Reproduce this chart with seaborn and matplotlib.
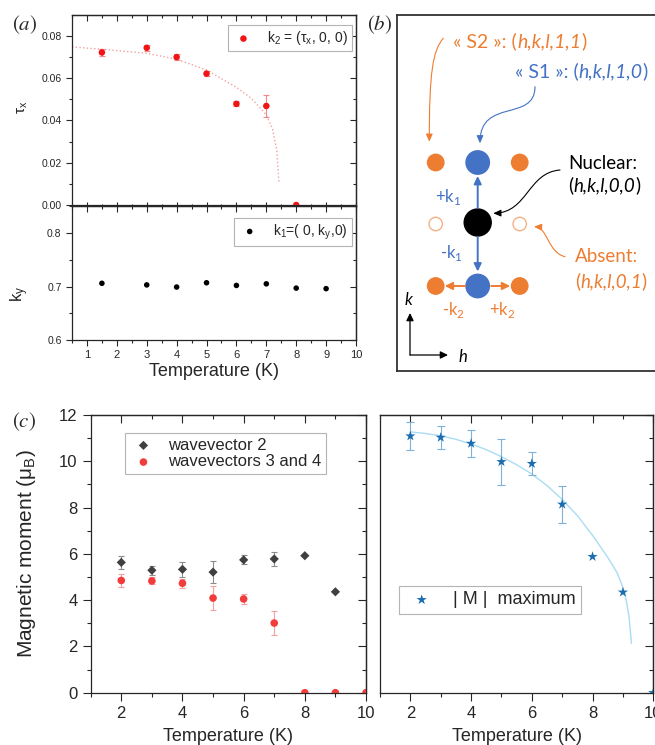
import matplotlib
matplotlib.use("Agg")
import matplotlib.pyplot as plt
from matplotlib.patches import Circle, FancyArrowPatch
from matplotlib.path import Path
from matplotlib.ticker import MultipleLocator, FormatStrFormatter
import pandas as pd
import seaborn as sns

# ---------------- data ----------------
# (a) top : k2 = (tau_x, 0, 0)
temp_tau = [1.5, 3, 4, 5, 6, 7, 8]
tau_x = [0.0721, 0.0743, 0.0699, 0.0621, 0.0478, 0.0468, 0.0]
tau_err = [0.0015, 0.0014, 0.0013, 0.0012, 0.0012, 0.0050, 0.0]
# dotted guide curve
temp_tau_fit = [0.5, 1.5, 3, 4, 5, 6, 6.5, 7, 7.2, 7.35, 7.42]
tau_fit = [0.0747, 0.0736, 0.0717, 0.0689, 0.0638, 0.0556, 0.0504, 0.0426, 0.0363, 0.0260, 0.0110]

# (a) bottom : k1 = (0, k_y, 0)
temp_ky = [1.5, 3, 4, 5, 6, 7, 8, 9]
k_y = [0.706, 0.703, 0.699, 0.707, 0.702, 0.705, 0.697, 0.696]

# (c) left : moments per wavevector
temp_wv2 = [2, 3, 4, 5, 6, 7, 8, 9]
m_wv2 = [5.63, 5.29, 5.33, 5.21, 5.74, 5.78, 5.92, 4.36]
m_wv2_err = [0.29, 0.20, 0.33, 0.49, 0.20, 0.30, 0.0, 0.0]
temp_wv34 = [2, 3, 4, 5, 6, 7, 8, 9, 10]
m_wv34 = [4.85, 4.83, 4.73, 4.09, 4.05, 3.01, 0.0, 0.0, 0.0]
m_wv34_err = [0.30, 0.15, 0.20, 0.50, 0.20, 0.50, 0.0, 0.0, 0.0]

# (c) right : |M| maximum
temp_max = [2, 3, 4, 5, 6, 7, 8, 9, 10]
m_max = [11.09, 11.03, 10.77, 9.98, 9.90, 8.14, 5.88, 4.34, 0.0]
m_max_err = [0.60, 0.50, 0.60, 1.00, 0.50, 0.80, 0.0, 0.0, 0.0]
temp_max_fit = [2.0, 2.5, 3.0, 3.5, 4.0, 4.5, 5.0, 5.5, 6.0, 6.5, 7.0, 7.5, 8.0, 8.5,
                8.8, 9.0, 9.1, 9.2, 9.28]
m_max_fit = [11.27, 11.2, 11.1, 10.95, 10.75, 10.5, 10.2, 9.85, 9.45, 8.95, 8.35, 7.65,
             6.8, 5.85, 5.2, 4.55, 4.05, 3.3, 2.13]

# ---------------- style ----------------
sns.set_style("ticks")
plt.rcParams['font.family'] = ['Liberation Sans', 'DejaVu Sans']
plt.rcParams['mathtext.fontset'] = 'custom'
plt.rcParams['mathtext.rm'] = 'Liberation Sans'
plt.rcParams['mathtext.sf'] = 'Lato'
plt.rcParams['axes.linewidth'] = 0.9

ORANGE = '#ED7D31'
BLUE = '#4472C4'
W, H = 655, 745


def fbox(x0, y0, x1, y1):
    return [x0 / W, 1 - y1 / H, (x1 - x0) / W, (y1 - y0) / H]


def origin_ticks(ax, xmaj, xmin, ymaj, ymin, length, labelsize):
    ax.xaxis.set_major_locator(MultipleLocator(xmaj))
    ax.xaxis.set_minor_locator(MultipleLocator(xmin))
    ax.yaxis.set_major_locator(MultipleLocator(ymaj))
    ax.yaxis.set_minor_locator(MultipleLocator(ymin))
    ax.tick_params(which='major', direction='out', length=length, width=0.8, labelsize=labelsize)
    ax.tick_params(which='minor', direction='out', length=length / 2, width=0.8)
    top = ax.secondary_xaxis('top')
    top.xaxis.set_major_locator(MultipleLocator(xmaj))
    top.xaxis.set_minor_locator(MultipleLocator(xmin))
    top.tick_params(which='major', direction='in', length=length, width=0.8, labeltop=False)
    top.tick_params(which='minor', direction='in', length=length / 2, width=0.8)
    right = ax.secondary_yaxis('right')
    right.yaxis.set_major_locator(MultipleLocator(ymaj))
    right.yaxis.set_minor_locator(MultipleLocator(ymin))
    right.tick_params(which='major', direction='in', length=length, width=0.8, labelright=False)
    right.tick_params(which='minor', direction='in', length=length / 2, width=0.8)


def error_bars(ax, x, y, err, color, capsize):
    d = pd.DataFrame({'x': x, 'y': y, 'e': err})
    d = d[d.e > 0]
    ax.errorbar(d.x, d.y, yerr=d.e, fmt='none', ecolor=color, elinewidth=0.8,
                capsize=capsize, capthick=0.8, zorder=2)


def legend_box(ax, loc, anchor, size, hl, htp):
    leg = ax.legend(loc=loc, bbox_to_anchor=anchor, borderaxespad=0, frameon=True,
                    fancybox=False, framealpha=1, edgecolor='#b4b4b4', fontsize=size,
                    handlelength=hl, handletextpad=htp, borderpad=0.3, labelspacing=0.1)
    leg.get_frame().set_linewidth(0.8)


fig = plt.figure(figsize=(W / 100, H / 100), dpi=100)

# ---------------- (a) top ----------------
ax = fig.add_axes(fbox(72, 15, 356, 205))
sns.lineplot(x=temp_tau_fit, y=tau_fit, ax=ax, color='#f2a0a0', lw=1, ls=':', sort=False)
error_bars(ax, temp_tau, tau_x, tau_err, '#f28a8a', 2.0)
sns.scatterplot(x=temp_tau, y=tau_x, ax=ax, color='#f01414', s=22, edgecolor='none',
                zorder=3, label=r'k$_\mathrm{2}$ = (τ$_\mathrm{x}$, 0, 0)')
ax.set_xlim(0.5, 10)
ax.set_ylim(0, 0.0898)
origin_ticks(ax, 1, 0.5, 0.02, 0.01, 4, 7.5)
ax.tick_params(axis='x', which='both', direction='inout', labelbottom=False)
ax.yaxis.set_major_formatter(FormatStrFormatter('%.2f'))
ax.set_ylabel(r'$\mathrm{\tau_x}$', fontsize=11)
ax.yaxis.set_label_coords(-0.148, 0.516)
legend_box(ax, 'upper right', (0.986, 0.947), 10, 1.6, 0.9)

# ---------------- (a) bottom ----------------
ax = fig.add_axes(fbox(72, 206, 356, 340))
sns.scatterplot(x=temp_ky, y=k_y, ax=ax, color='black', s=16, edgecolor='none',
                zorder=3, label=r'k$_\mathrm{1}$=( 0, k$_\mathrm{y}$,0)')
ax.set_xlim(0.5, 10)
ax.set_ylim(0.6, 0.8505)
origin_ticks(ax, 1, 0.5, 0.1, 0.05, 4, 7.5)
ax.tick_params(axis='x', labelsize=8)
ax.yaxis.set_major_formatter(FormatStrFormatter('%.1f'))
ax.set_ylabel(r'$\mathrm{k_y}$', fontsize=12)
ax.yaxis.set_label_coords(-0.145, 0.343)
ax.set_xlabel('Temperature (K)', fontsize=13, labelpad=2)
legend_box(ax, 'upper right', (0.986, 0.91), 10, 1.6, 0.9)

# ---------------- (c) left ----------------
ax = fig.add_axes(fbox(90.7, 415, 366, 692.7))
error_bars(ax, temp_wv2, m_wv2, m_wv2_err, '#8c8c8c', 2.4)
error_bars(ax, temp_wv34, m_wv34, m_wv34_err, '#f4a0a0', 2.4)
sns.scatterplot(x=temp_wv2, y=m_wv2, ax=ax, marker='D', color='#404040', s=22,
                edgecolor='none', zorder=3, label='wavevector 2')
sns.scatterplot(x=temp_wv34, y=m_wv34, ax=ax, color='#f23c3c', s=30,
                edgecolor='none', zorder=3, label='wavevectors 3 and 4')
ax.set_xlim(1, 10)
ax.set_ylim(0, 12)
origin_ticks(ax, 2, 1, 2, 1, 6, 12)
ax.set_xlabel('Temperature (K)', fontsize=13, labelpad=5)
ax.set_ylabel(r'Magnetic moment ($\mathrm{\mu_B}$)', fontsize=15)
ax.yaxis.set_label_coords(-0.19, 0.5)
legend_box(ax, 'upper left', (0.125, 0.936), 12, 1.6, 0.65)

# ---------------- (c) right ----------------
ax = fig.add_axes(fbox(380, 415, 653.3, 692.7))
sns.lineplot(x=temp_max_fit, y=m_max_fit, ax=ax, color='#aadcf2', lw=1, sort=False)
error_bars(ax, temp_max, m_max, m_max_err, '#7fb2d8', 2.9)
sns.scatterplot(x=temp_max, y=m_max, ax=ax, marker='*', color='#1b6db0', s=60,
                edgecolor='none', zorder=3, label='| M |  maximum')
ax.set_xlim(1, 10)
ax.set_ylim(0, 12)
origin_ticks(ax, 2, 1, 2, 1, 6, 12)
ax.tick_params(axis='y', which='both', left=False, labelleft=False)
ax.set_xlabel('Temperature (K)', fontsize=13, labelpad=5)
legend_box(ax, 'upper left', (0.07, 0.384), 13, 1.9, 0.8)

# ---------------- (b) scattering schematic ----------------
axb = fig.add_axes(fbox(396.5, 15, 661.5, 371))
axb.set_xlim(-81.2, 183.8)
axb.set_ylim(-148.5, 207.5)
axb.set_xticks([])
axb.set_yticks([])
for s in axb.spines.values():
    s.set_linewidth(1.3)
    s.set_color('#333333')

for x in (-42, 42):
    axb.add_patch(Circle((x, 60), 8.2, color=ORANGE))
    axb.add_patch(Circle((x, -63.5), 8.2, color=ORANGE))
    axb.add_patch(Circle((x, -1.5), 6.7, facecolor='none', edgecolor='#F4B183', lw=1))
axb.add_patch(Circle((0, 60), 11.7, color=BLUE))
axb.add_patch(Circle((0, -63.5), 11.7, color=BLUE))
axb.add_patch(Circle((0, 0), 13.5, color='black'))


def arrow(start, end, color, lw):
    axb.annotate('', xy=end, xytext=start,
                 arrowprops=dict(arrowstyle='-|>,head_length=0.45,head_width=0.22',
                                 color=color, lw=lw, shrinkA=0, shrinkB=0))


def curved(pts, color):
    path = Path(pts, [Path.MOVETO, Path.CURVE4, Path.CURVE4, Path.CURVE4])
    axb.add_patch(FancyArrowPatch(path=path, arrowstyle='-|>,head_length=0.45,head_width=0.2',
                                  mutation_scale=10, color=color, lw=0.8))


arrow((0, 14.5), (0, 46.5), BLUE, 1.4)
arrow((0, -14.5), (0, -49), BLUE, 1.4)
arrow((-12.5, -63.5), (-33, -63.5), ORANGE, 1.4)
arrow((13.5, -63.5), (32.5, -63.5), ORANGE, 1.4)
arrow((-67.7, -132.5), (-67.7, -90.5), 'black', 0.9)
arrow((-67.7, -132.5), (-29.7, -132.5), 'black', 0.9)

curved([(-34.4, 184.2), (-45, 172), (-48.4, 150), (-48.4, 80.8)], ORANGE)
curved([(57.3, 135.8), (57.3, 100), (2.3, 125), (2.3, 79.2)], BLUE)
curved([(82.3, 52.5), (50, 50), (50, 10), (15.6, 9.2)], 'black')
curved([(87.3, -34.2), (70, -30), (70, -5), (56.3, -4.2)], ORANGE)


def mixed(x, y, parts, color, size=13.5):
    t = axb.text(x, y, parts[0], color=color, fontsize=size, family='Lato',
                 ha='left', va='center')
    for i, s in enumerate(parts[1:]):
        t = axb.annotate(s, xy=(1, 0), xycoords=t, va='bottom', ha='left', color=color,
                         fontsize=size, family='Lato',
                         style='italic' if i % 2 == 0 else 'normal')


mixed(-24.4, 180.8, ['« S2 »: (', 'h,k,l,1,1', ')'], ORANGE, 14)
mixed(37.3, 150.8, ['« S1 »: (', 'h,k,l,1,0', ')'], BLUE, 14)
mixed(90.6, 59.2, ['Nuclear:'], 'black')
mixed(90.6, 37.5, ['(', 'h,k,l,0,0', ')'], 'black')
mixed(97.3, -34.2, ['Absent:'], ORANGE)
mixed(97.3, -59.2, ['(', 'h,k,l,0,1', ')'], ORANGE)

small = dict(fontsize=12, family='Lato', ha='center', va='center')
axb.text(-29.4, 25.8, r'+k$_\mathsf{1}$', color=BLUE, **small)
axb.text(-26, -30.8, r'-k$_\mathsf{1}$', color=BLUE, **small)
axb.text(-24.7, -87.5, r'-k$_\mathsf{2}$', color=ORANGE, **small)
axb.text(24, -87.5, r'+k$_\mathsf{2}$', color=ORANGE, **small)
axb.text(-69.7, -77.5, 'k', color='black', style='italic', **small)
axb.text(-14.7, -134.2, 'h', color='black', style='italic', **small)

# panel letters
for lab, px, py in ((r'$(a)$', 25, 25), (r'$(b)$', 380, 25), (r'$(c)$', 24, 421.7)):
    fig.text(px / W, 1 - py / H, lab, ha='center', va='center', fontsize=15,
             math_fontfamily='stix')

fig.savefig('out.png', dpi=100)
